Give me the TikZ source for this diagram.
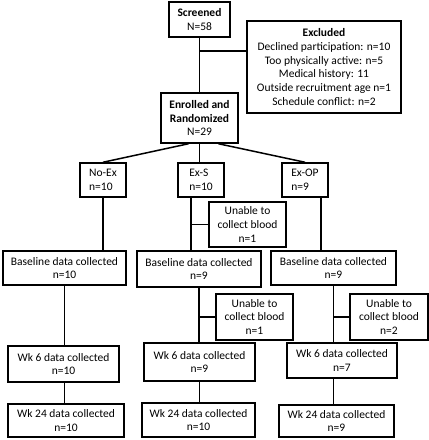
\documentclass[tikz,border=0pt]{standalone}
\usepackage{fontspec}
\setmainfont{Carlito}
\begin{document}
\begin{tikzpicture}[x=1pt, y=-1pt,
  box/.style={draw, line width=1.5pt, align=center, inner sep=2pt, font=\fontsize{11.5}{13.7}\selectfont},
  arm/.style={draw, box, align=left},
  link/.style={line width=1.5pt}]
\useasboundingbox (0,0) rectangle (429,440);
% screening
\node[box, minimum width=61, minimum height=35] (scr) at (199.5, 19.5) {\textbf{Screened}\\N=58};
\node[box, minimum width=154, minimum height=92] (exc) at (324, 67) {\textbf{Excluded}\\Declined participation: n=10\\Too physically active: n=5\\Medical history: 11\\Outside recruitment age n=1\\Schedule conflict: n=2};
\node[box, minimum width=77, minimum height=50] (enr) at (199.5, 118) {\textbf{Enrolled and}\\\textbf{Randomized}\\N=29};
\coordinate (excj) at (199.5, 51);
\path[link] (scr.south) edge (scr.south |- enr.north);
\path[link] (excj) edge (excj -| exc.west);
% arms
\node[arm, minimum width=46, minimum height=34] (noex) at (103, 180) {No-Ex\\n=10};
\node[arm, minimum width=46, minimum height=34] (exs) at (201, 180) {Ex-S\\n=10};
\node[arm, minimum width=46, minimum height=34] (exop) at (305, 180) {Ex-OP\\n=9};
\path[link] ([xshift=-11pt]enr.south) edge (noex.north);
\path[link] (enr.south) edge (enr.south |- exs.north);
\path[link] ([xshift=19pt]enr.south) edge (exop.north);
\coordinate (exsl) at ([xshift=-10pt]exs.south);
\coordinate (exopl) at ([xshift=16pt]exop.south);
% baseline
\node[box, minimum width=77, minimum height=45] (unb1) at (247.5, 224.5) {Unable to\\collect blood\\n=1};
\node[box, minimum width=123, minimum height=34] (base1) at (64.5, 268) {Baseline data collected\\n=10};
\node[box, minimum width=124, minimum height=36] (base2) at (199, 269) {Baseline data collected\\n=9};
\node[box, minimum width=125, minimum height=34] (base3) at (333.5, 268) {Baseline data collected\\n=9};
\path[link] (noex.south) edge (noex.south |- base1.north);
\path[link] (exsl) edge (exsl |- base2.north);
\path[link] (unb1.west) edge (unb1.west -| exsl);
\path[link] (exopl) edge (exopl |- base3.north);
% week 6
\node[box, minimum width=77, minimum height=46] (unb2) at (254.5, 317) {Unable to\\collect blood\\n=1};
\node[box, minimum width=78, minimum height=46] (unb3) at (389, 317) {Unable to\\collect blood\\n=2};
\node[box, minimum width=111, minimum height=36] (wk6a) at (63.5, 364) {Wk 6 data collected\\n=10};
\node[box, minimum width=111, minimum height=38] (wk6b) at (199.5, 362) {Wk 6 data collected\\n=9};
\node[box, minimum width=110, minimum height=35] (wk6c) at (342, 360.5) {Wk 6 data collected\\n=7};
\path[link] (base1.south) edge (base1.south |- wk6a.north);
\path[link] (base2.south) edge (base2.south |- wk6b.north);
\path[link] (unb2.west) edge (unb2.west -| base2.south);
\path[link] (base3.south) edge (base3.south |- wk6c.north);
\path[link] (unb3.west) edge (unb3.west -| base3.south);
% week 24
\node[box, minimum width=116, minimum height=33] (wk24a) at (66, 420.5) {Wk 24 data collected\\n=10};
\node[box, minimum width=113, minimum height=34] (wk24b) at (198.5, 420) {Wk 24 data collected\\n=10};
\node[box, minimum width=115, minimum height=32] (wk24c) at (336.5, 421) {Wk 24 data collected\\n=9};
\path[link] (wk6a.south -| base1.south) edge (base1.south |- wk24a.north);
\path[link] (wk6b.south) edge (wk6b.south |- wk24b.north);
\path[link] (wk6c.south -| base3.south) edge (base3.south |- wk24c.north);
\end{tikzpicture}
\end{document}
